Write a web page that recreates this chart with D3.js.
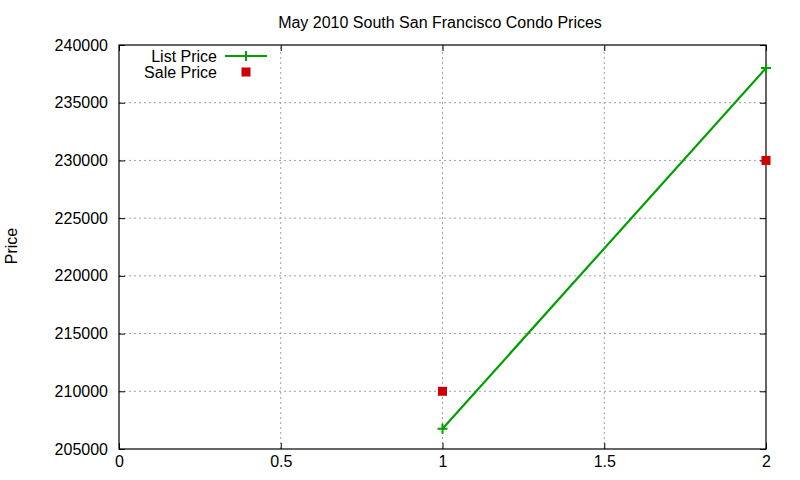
<!DOCTYPE html>
<html>
<head>
<meta charset="utf-8">
<script src="https://cdn.jsdelivr.net/npm/d3@7"></script>
<style>
  body { margin: 0; background: #fff; }
  text { font-family: "Liberation Sans", Arial, sans-serif; font-size: 16px; fill: #000; }
</style>
</head>
<body>
<div id="chart"></div>
<script>
const months = [1, 2];
const listPrice = [206750, 238000];
const salePrice = [210000, 230000];
const xTicks = [0, 0.5, 1, 1.5, 2];
const yTicks = [205000, 210000, 215000, 220000, 225000, 230000, 235000, 240000];

const width = 800, height = 480;
const margin = { top: 45, right: 34, bottom: 31, left: 119 };

const svg = d3.select('#chart').append('svg')
    .attr('width', width)
    .attr('height', height);

const xScale = d3.scaleLinear()
    .domain([0, 2])
    .range([margin.left, width - margin.right]);

const yScale = d3.scaleLinear()
    .domain([205000, 240000])
    .range([height - margin.bottom, margin.top]);

// grid
svg.append('g')
    .selectAll('line')
    .data(xTicks.slice(1, -1))
    .enter().append('line')
    .attr('x1', d => xScale(d)).attr('x2', d => xScale(d))
    .attr('y1', yScale.range()[0]).attr('y2', yScale.range()[1])
    .attr('stroke', '#a0a0a0').attr('stroke-dasharray', '2,3');

svg.append('g')
    .selectAll('line')
    .data(yTicks.slice(1, -1))
    .enter().append('line')
    .attr('x1', xScale.range()[0]).attr('x2', xScale.range()[1])
    .attr('y1', d => yScale(d)).attr('y2', d => yScale(d))
    .attr('stroke', '#a0a0a0').attr('stroke-dasharray', '2,3');

// axes, gnuplot-style inward ticks on all sides
const tick = 6;
svg.append('g')
    .attr('transform', `translate(0,${height - margin.bottom})`)
    .call(d3.axisBottom(xScale).tickValues(xTicks).tickSizeInner(-tick).tickSizeOuter(0).tickPadding(7).tickFormat(d3.format('')))
    .call(g => g.select('.domain').remove());

svg.append('g')
    .attr('transform', `translate(0,${margin.top})`)
    .call(d3.axisTop(xScale).tickValues(xTicks).tickSizeInner(-tick).tickSizeOuter(0).tickFormat(''))
    .call(g => g.select('.domain').remove());

svg.append('g')
    .attr('transform', `translate(${margin.left},0)`)
    .call(d3.axisLeft(yScale).tickValues(yTicks).tickSizeInner(-tick).tickSizeOuter(0).tickPadding(11).tickFormat(d3.format('d')))
    .call(g => g.select('.domain').remove());

svg.append('g')
    .attr('transform', `translate(${width - margin.right},0)`)
    .call(d3.axisRight(yScale).tickValues(yTicks).tickSizeInner(-tick).tickSizeOuter(0).tickFormat(''))
    .call(g => g.select('.domain').remove());

svg.selectAll('.tick text').style('font-size', '16px').style('font-family', '"Liberation Sans", Arial, sans-serif');
svg.selectAll('.tick line').attr('stroke', '#000');

svg.append('rect')
    .attr('x', margin.left).attr('y', margin.top)
    .attr('width', width - margin.left - margin.right)
    .attr('height', height - margin.top - margin.bottom)
    .attr('fill', 'none').attr('stroke', '#000').attr('stroke-width', 1.2);

// list price line
const data = months.map((m, i) => ({ m, list: listPrice[i], sale: salePrice[i] }));
const green = '#00a000', red = '#cc0000';

svg.append('path')
    .datum(data)
    .attr('d', d3.line().x(d => xScale(d.m)).y(d => yScale(d.list)))
    .attr('fill', 'none').attr('stroke', green).attr('stroke-width', 2.2);

const plus = (g, x, y) => {
    g.append('path')
        .attr('d', `M${x - 5},${y}H${x + 5}M${x},${y - 5}V${y + 5}`)
        .attr('stroke', green).attr('stroke-width', 2);
};
data.forEach(d => plus(svg, xScale(d.m), yScale(d.list)));

svg.selectAll('.sale')
    .data(data)
    .enter().append('rect')
    .attr('class', 'sale')
    .attr('x', d => xScale(d.m) - 4.5)
    .attr('y', d => yScale(d.sale) - 4.5)
    .attr('width', 9).attr('height', 9)
    .attr('fill', red);

// legend
const legend = svg.append('g');
legend.append('text').attr('x', 217).attr('y', 62).attr('text-anchor', 'end').text('List Price');
legend.append('line').attr('x1', 225).attr('x2', 267).attr('y1', 56).attr('y2', 56)
    .attr('stroke', green).attr('stroke-width', 2.2);
plus(legend, 246, 56);
legend.append('text').attr('x', 217).attr('y', 78).attr('text-anchor', 'end').text('Sale Price');
legend.append('rect').attr('x', 241.5).attr('y', 67.5).attr('width', 9).attr('height', 9).attr('fill', red);

// title and y label
svg.append('text')
    .attr('x', 440).attr('y', 28)
    .attr('text-anchor', 'middle')
    .text('May 2010 South San Francisco Condo Prices');

svg.append('text')
    .attr('transform', 'translate(17,246) rotate(-90)')
    .attr('text-anchor', 'middle')
    .text('Price');
</script>
</body>
</html>
